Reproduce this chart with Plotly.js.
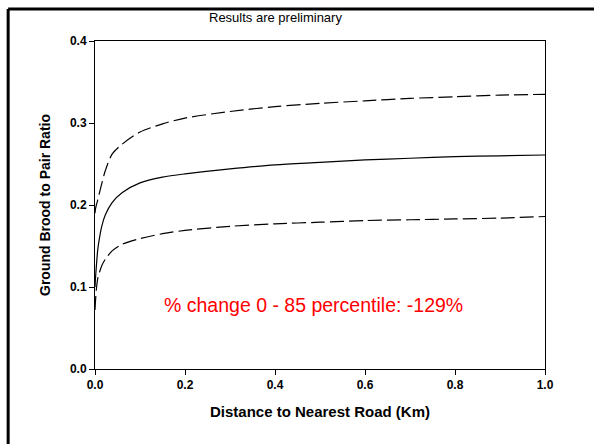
<!DOCTYPE html>
<html>
<head>
<meta charset="utf-8">
<script src="https://cdn.plot.ly/plotly-3.0.1.min.js"></script>
<style>
html,body{margin:0;padding:0;background:#fff;}
#chart{width:594px;height:444px;}
</style>
</head>
<body>
<div id="chart"></div>
<script>
var distance = [0, 0.001, 0.003, 0.006, 0.01, 0.015, 0.023, 0.038, 0.06, 0.1, 0.15, 0.2, 0.3, 0.4, 0.5, 0.6, 0.7, 0.8, 0.9, 1.0];
var ratioMean = [0.1, 0.11, 0.125, 0.145, 0.16, 0.174, 0.188, 0.203, 0.215, 0.227, 0.234, 0.238, 0.244, 0.249, 0.252, 0.255, 0.257, 0.259, 0.260, 0.261];
var ratioUpper = [0.19, 0.195, 0.2, 0.206, 0.215, 0.226, 0.242, 0.262, 0.274, 0.289, 0.299, 0.306, 0.314, 0.320, 0.324, 0.327, 0.330, 0.332, 0.334, 0.335];
var ratioLower = [0.072, 0.082, 0.097, 0.11, 0.118, 0.126, 0.134, 0.144, 0.152, 0.159, 0.165, 0.169, 0.174, 0.177, 0.179, 0.181, 0.182, 0.183, 0.184, 0.186];
var yTicks = [0, 0.1, 0.2, 0.3, 0.4];
var yTickText = ['0.0', '0.1', '0.2', '0.3', '0.4'];
var xTicks = [0, 0.2, 0.4, 0.6, 0.8, 1.0];
var xTickText = ['0.0', '0.2', '0.4', '0.6', '0.8', '1.0'];
var titleText = 'Results are preliminary';
var noteText = '% change 0 - 85 percentile: -129%';

var font = 'Liberation Sans, Arial, sans-serif';
var traces = [
  {x: distance, y: ratioUpper, mode: 'lines', line: {color: '#000', width: 1.2, dash: '14px,5px', shape: 'spline', smoothing: 0.8}, hoverinfo: 'skip'},
  {x: distance, y: ratioMean, mode: 'lines', line: {color: '#000', width: 1.2, shape: 'spline', smoothing: 0.8}, hoverinfo: 'skip'},
  {x: distance, y: ratioLower, mode: 'lines', line: {color: '#000', width: 1.2, dash: '14px,5px', shape: 'spline', smoothing: 0.8}, hoverinfo: 'skip'}
];
var layout = {
  width: 594, height: 444,
  margin: {l: 95, r: 49, t: 41, b: 75, pad: 0},
  paper_bgcolor: '#fff', plot_bgcolor: '#fff',
  showlegend: false,
  font: {family: font, color: '#000'},
  xaxis: {
    range: [0, 1], tickvals: xTicks, ticktext: xTickText,
    ticks: 'outside', ticklen: 5, tickwidth: 1, tickcolor: '#000',
    showline: true, linecolor: '#000', linewidth: 1, mirror: true,
    showgrid: false, zeroline: false,
    tickfont: {family: font, size: 12, weight: 'bold', color: '#000'},
    title: {text: 'Distance to Nearest Road (Km)', font: {family: font, size: 15, weight: 'bold', color: '#000'}, standoff: 15}
  },
  yaxis: {
    range: [0, 0.4], tickvals: yTicks, ticktext: yTickText,
    ticks: 'outside', ticklen: 5, tickwidth: 1, tickcolor: '#000',
    showline: true, linecolor: '#000', linewidth: 1, mirror: true,
    showgrid: false, zeroline: false,
    tickfont: {family: font, size: 12, weight: 'bold', color: '#000'},
    title: {text: 'Ground Brood to Pair Ratio', font: {family: font, size: 14, weight: 'bold', color: '#000'}, standoff: 16}
  },
  annotations: [
    {text: titleText, xref: 'paper', yref: 'paper', x: 0.4, y: 1.073, xanchor: 'center', yanchor: 'middle', showarrow: false, font: {family: font, size: 13, color: '#000'}},
    {text: noteText, xref: 'paper', yref: 'paper', x: 0.486, y: 0.195, xanchor: 'center', yanchor: 'middle', showarrow: false, font: {family: font, size: 19.5, color: '#ff0000'}}
  ],
  shapes: [
    {type: 'line', xref: 'paper', yref: 'paper', x0: -0.193, x1: 1.2, y0: 1.0976, y1: 1.0976, line: {color: '#000', width: 3}},
    {type: 'line', xref: 'paper', yref: 'paper', x0: -0.193, x1: -0.193, y0: 1.0976, y1: -0.3, line: {color: '#000', width: 3}}
  ]
};
Plotly.newPlot('chart', traces, layout, {displayModeBar: false, staticPlot: true});
</script>
</body>
</html>
